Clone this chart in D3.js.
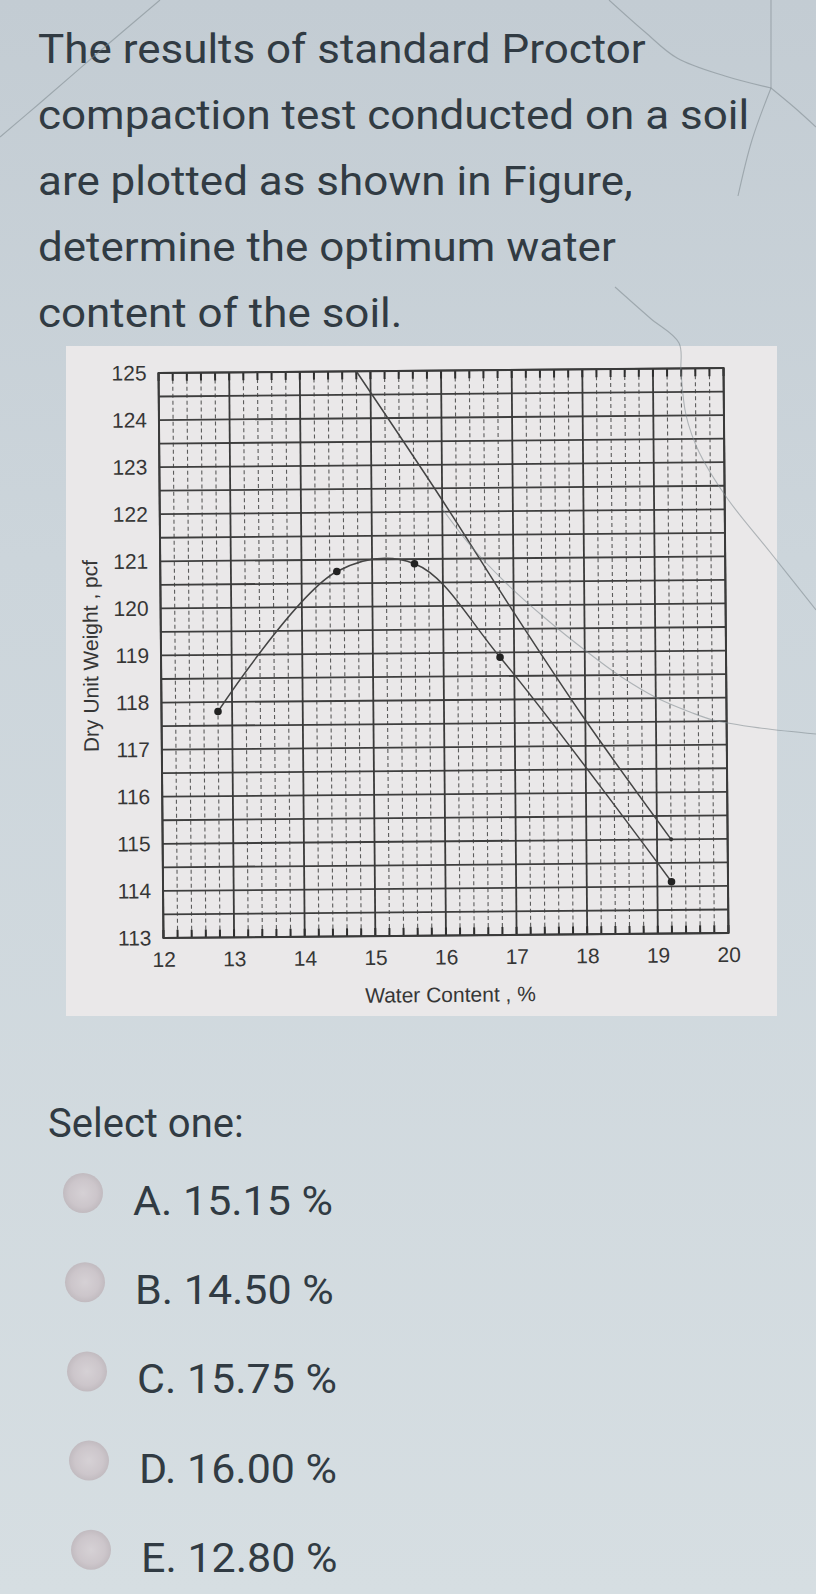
<!DOCTYPE html>
<html><head><meta charset="utf-8">
<script src="https://cdn.jsdelivr.net/npm/d3@7"></script>
<style>html,body{margin:0;padding:0;background:#cdd6dc;} svg{display:block}</style>
</head><body><svg id="c" width="816" height="1594"></svg>
<script>
// ---- data ----
const questionLines = ["The results of standard Proctor","compaction test conducted on a soil","are plotted as shown in Figure,","determine the optimum water","content of the soil."];
const waterContent = [12.8, 14.5, 15.6, 16.8, 19.2];
const dryUnitWeight = [117.8, 120.75, 120.9, 118.9, 114.1];
const zavWater = [14.8, 16, 17, 18, 19.2];
const zavUnitWeight = [125, 122.25, 119.85, 117.55, 115.0];
const xTicks = [12,13,14,15,16,17,18,19,20];
const yTicks = [113,114,115,116,117,118,119,120,121,122,123,124,125];
const xTitle = "Water Content , %";
const yTitle = "Dry Unit Weight , pcf";
const promptText = "Select one:";
const optionLetters = ["A","B","C","D","E"];
const optionValues = ["15.15","14.50","15.75","16.00","12.80"];

const svg = d3.select("#c");
const defs = svg.append("defs");
const bg = defs.append("linearGradient").attr("id","bg").attr("x1",0).attr("y1",0).attr("x2",0).attr("y2",1);
bg.append("stop").attr("offset","0").attr("stop-color","#c3ccd3");
bg.append("stop").attr("offset","0.35").attr("stop-color","#ccd5db");
bg.append("stop").attr("offset","1").attr("stop-color","#d6dee2");
const rg = defs.append("radialGradient").attr("id","radio");
rg.append("stop").attr("offset","0").attr("stop-color","#d6cfd3");
rg.append("stop").attr("offset","0.7").attr("stop-color","#cbc2c7");
rg.append("stop").attr("offset","1").attr("stop-color","#beb5ba");

svg.append("rect").attr("width",816).attr("height",1594).attr("fill","url(#bg)");

// ---- question text ----
const qg = svg.append("g");
const qText = qg.selectAll("text").data(questionLines).join("text")
  .attr("x",0).attr("y",(d,i)=>i*66)
  .attr("font-family","Roboto").attr("font-size",40).attr("fill","#313b43")
  .text(d=>d);
const qw = qText.nodes()[0].getComputedTextLength();
qg.attr("transform",`translate(38,63) scale(${608/qw},1)`);

// ---- chart box ----
svg.append("rect").attr("x",66).attr("y",346).attr("width",711).attr("height",670).attr("fill","#eae8e9");

const L=161, R=726, T=370.5, B=935.5;
const x = d3.scaleLinear().domain([12,20]).range([L,R]);
const y = d3.scaleLinear().domain([113,125]).range([B,T]);
const chart = svg.append("g").attr("transform",`rotate(-0.5,${(L+R)/2},${(T+B)/2})`);

const minorX = d3.range(12,20.001,0.2).map(v=>+v.toFixed(1));
const gridY = d3.range(113,125.001,0.5);

// minor verticals (dashed)
chart.append("g").selectAll("line").data(minorX.filter(v=>Math.abs(v-Math.round(v))>1e-6)).join("line")
  .attr("x1",d=>x(d)).attr("x2",d=>x(d)).attr("y1",T).attr("y2",B)
  .attr("stroke","#5c5c5c").attr("stroke-width",1.1).attr("stroke-dasharray","4,3");
// horizontal lines every 0.5
chart.append("g").selectAll("line").data(gridY).join("line")
  .attr("x1",L).attr("x2",R).attr("y1",d=>y(d)).attr("y2",d=>y(d))
  .attr("stroke","#3e3e3e").attr("stroke-width",1.8);
// major verticals
chart.append("g").selectAll("line").data(xTicks).join("line")
  .attr("x1",d=>x(d)).attr("x2",d=>x(d)).attr("y1",T).attr("y2",B)
  .attr("stroke","#3a3a3a").attr("stroke-width",1.8);
// tick marks top & bottom
chart.append("g").selectAll("line").data(minorX).join("line")
  .attr("x1",d=>x(d)).attr("x2",d=>x(d)).attr("y1",T).attr("y2",T+8)
  .attr("stroke","#2e2e2e").attr("stroke-width",2);
chart.append("g").selectAll("line").data(minorX).join("line")
  .attr("x1",d=>x(d)).attr("x2",d=>x(d)).attr("y1",B-8).attr("y2",B)
  .attr("stroke","#2e2e2e").attr("stroke-width",2);
chart.append("rect").attr("x",L).attr("y",T).attr("width",R-L).attr("height",B-T)
  .attr("fill","none").attr("stroke","#3a3a3a").attr("stroke-width",2);

// axes labels via d3 axes
const yAxis = chart.append("g").attr("transform",`translate(${L-12},0)`)
  .call(d3.axisLeft(y).tickValues(yTicks).tickSize(0).tickPadding(0).tickFormat(d3.format("d")));
yAxis.select(".domain").remove();
yAxis.selectAll("text").attr("font-family","Liberation Sans, Arial").attr("font-size",21).attr("fill","#363636");
const xAxis = chart.append("g").attr("transform",`translate(0,${B+14})`)
  .call(d3.axisBottom(x).tickValues(xTicks).tickSize(0).tickPadding(0).tickFormat(d3.format("d")));
xAxis.select(".domain").remove();
xAxis.selectAll("text").attr("font-family","Liberation Sans, Arial").attr("font-size",21).attr("fill","#363636");

chart.append("text").attr("x",(L+R)/2+4).attr("y",1002).attr("text-anchor","middle")
  .attr("font-family","Liberation Sans, Arial").attr("font-size",21).attr("fill","#363636").text(xTitle);
chart.append("text").attr("transform",`translate(98,${(T+B)/2}) rotate(-90)`).attr("text-anchor","middle")
  .attr("font-family","Liberation Sans, Arial").attr("font-size",21).attr("fill","#363636").text(yTitle);

// zero-air-void line
const zav = zavWater.map((w,i)=>[w,zavUnitWeight[i]]);
chart.append("path").datum(zav)
  .attr("d",d3.line().x(d=>x(d[0])).y(d=>y(d[1])).curve(d3.curveCatmullRom.alpha(0.5)))
  .attr("fill","none").attr("stroke","#444").attr("stroke-width",1.5);
chart.append("circle").attr("cx",x(zavWater[zavWater.length-1])).attr("cy",y(zavUnitWeight[zavUnitWeight.length-1])).attr("r",2).attr("fill","#333");

// compaction curve
const pts = waterContent.map((w,i)=>[w,dryUnitWeight[i]]);
chart.append("path").datum(pts)
  .attr("d",d3.line().x(d=>x(d[0])).y(d=>y(d[1])).curve(d3.curveCatmullRom.alpha(0.5)))
  .attr("fill","none").attr("stroke","#444").attr("stroke-width",1.5);
chart.append("g").selectAll("circle").data(pts).join("circle")
  .attr("cx",d=>x(d[0])).attr("cy",d=>y(d[1])).attr("r",3.8).attr("fill","#222");

// ---- answer options ----
svg.append("text").attr("x",48).attr("y",1137).attr("font-family","Roboto").attr("font-size",40)
  .attr("fill","#313b43").text(promptText);
const og = svg.append("g");
const opts = og.selectAll("g").data(optionLetters.map((l,i)=>({l,v:optionValues[i],i}))).join("g")
  .attr("transform",d=>`translate(${133+d.i*2},${1215+d.i*89.2})`);
opts.append("circle").attr("cx",-50).attr("cy",-22).attr("r",20).attr("fill","url(#radio)").attr("opacity",0.85);
const ot = opts.append("text").attr("font-family","Roboto").attr("font-size",40).attr("fill","#313b43")
  .text(d=>`${d.l}. ${d.v} %`);
const ow = ot.nodes()[0].getComputedTextLength();
ot.attr("transform",`scale(${200/ow},1)`);

// ---- screen cracks (photo artefacts) ----
const cracks = [
  [[160,0],[100,51],[40,103],[0,137]],
  [[609,0],[645,32],[677,58],[725,76],[771,88]],
  [[771,0],[771,88]],
  [[771,88],[795,108],[816,127]],
  [[771,88],[752,140],[738,196]],
  [[615,287],[650,318],[679,343],[681,372],[686,415],[699,452],[727,498],[770,552],[816,610]],
  [[441,507],[470,545],[505,582],[545,618],[586,651],[620,676],[657,698],[690,712],[713,720],[760,728],[816,734]]
];
svg.append("g").selectAll("path").data(cracks).join("path")
  .attr("d",d3.line().curve(d3.curveCatmullRom))
  .attr("fill","none").attr("stroke","#7c868d").attr("stroke-width",1.1).attr("opacity",0.55);
</script></body></html>
